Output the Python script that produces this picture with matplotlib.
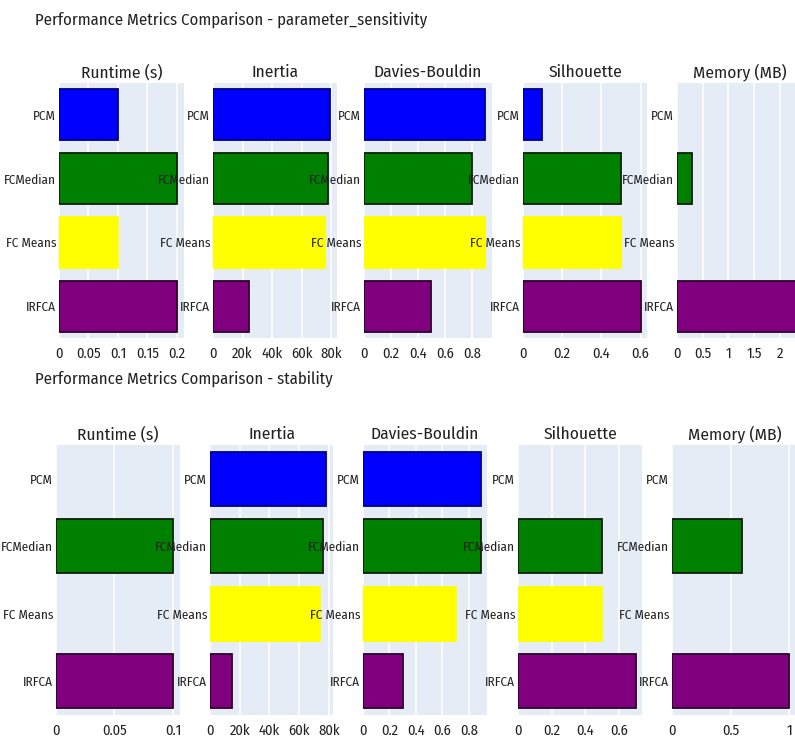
import matplotlib.pyplot as plt
from matplotlib.ticker import FuncFormatter

plt.rcParams['font.family'] = ['Fira Sans Condensed', 'DejaVu Sans']
plt.rcParams['font.weight'] = 'normal'

# categories, top to bottom
methods = ["PCM", "FCMedian", "FC Means", "IRFCA"]
bar_colors = ["#0000ff", "#008000", "#ffff00", "#800080"]
edge_colors = ["#000080", "#0a200a", "#ffff00", "#2a0028"]
metrics = ["Runtime (s)", "Inertia", "Davies-Bouldin", "Silhouette", "Memory (MB)"]

# parameter_sensitivity run
ps_runtime = [0.1, 0.2, 0.1, 0.2]
ps_inertia = [79000, 78000, 76000, 24500]
ps_db = [0.90, 0.80, 0.90, 0.50]
ps_silhouette = [0.095, 0.50, 0.50, 0.60]
ps_memory = [0.0, 0.29, 0.0, 2.35]

# stability run
st_runtime = [0.0, 0.1, 0.0, 0.1]
st_inertia = [78000, 76000, 74000, 15000]
st_db = [0.89, 0.89, 0.70, 0.30]
st_silhouette = [0.0, 0.50, 0.50, 0.70]
st_memory = [0.0, 0.60, 0.0, 1.0]

ps_ticks = [[0, 0.05, 0.1, 0.15, 0.2], [0, 20000, 40000, 60000, 80000],
            [0, 0.2, 0.4, 0.6, 0.8], [0, 0.2, 0.4, 0.6], [0, 0.5, 1, 1.5, 2]]
st_ticks = [[0, 0.05, 0.1], [0, 20000, 40000, 60000, 80000],
            [0, 0.2, 0.4, 0.6, 0.8], [0, 0.2, 0.4, 0.6], [0, 0.5, 1]]
ps_xmax = [0.212, 84000, 0.95, 0.633, 2.43]
st_xmax = [0.106, 82700, 0.936, 0.736, 1.075]

W, H = 795, 740
fig = plt.figure(figsize=(W / 100, H / 100), dpi=100)
fig.patch.set_facecolor("white")

TXT = "#222222"
BG = "#e5ecf6"


def fmt(v, pos):
    if v >= 1000:
        return f"{int(v / 1000)}k"
    return f"{v:g}"


def draw_row(values, ticks, xmax, lefts, top, bottom):
    for i, vals in enumerate(values):
        l, r = lefts[i]
        ax = fig.add_axes([l / W, 1 - bottom / H, (r - l) / W, (bottom - top) / H])
        ax.set_facecolor(BG)
        ypos = list(range(len(methods)))
        lw = [1.3 if v > 0 else 0 for v in vals]
        ax.barh(ypos, vals, height=0.8, color=bar_colors,
                edgecolor=edge_colors, linewidth=lw, zorder=3)
        ax.set_yticks(ypos)
        ax.set_yticklabels(methods)
        ax.set_ylim(len(methods) - 0.5, -0.5)
        ax.set_xlim(0, xmax[i])
        ax.set_xticks(ticks[i])
        ax.xaxis.set_major_formatter(FuncFormatter(fmt))
        ax.grid(axis="x", color="white", linewidth=1.1, zorder=0)
        ax.set_axisbelow(True)
        for s in ax.spines.values():
            s.set_visible(False)
        ax.tick_params(axis="y", length=0, labelsize=9.5, colors=TXT, pad=2)
        ax.tick_params(axis="x", length=0, labelsize=10.5, colors=TXT, pad=6)
        ax.set_title(metrics[i], fontsize=12.5, color=TXT, pad=4)


draw_row([ps_runtime, ps_inertia, ps_db, ps_silhouette, ps_memory], ps_ticks, ps_xmax,
         [(59, 184), (213, 337), (364, 492), (523, 647), (677, 802)], 83, 338)
draw_row([st_runtime, st_inertia, st_db, st_silhouette, st_memory], st_ticks, st_xmax,
         [(56, 180), (210, 333), (363, 487), (518, 642), (672, 798)], 445, 715)

fig.text(35 / W, 1 - 20 / H, "Performance Metrics Comparison - parameter_sensitivity",
         fontsize=12, color=TXT, va="center", ha="left")
fig.text(35 / W, 1 - 379 / H, "Performance Metrics Comparison - stability",
         fontsize=12, color=TXT, va="center", ha="left")

fig.savefig("out.png", dpi=100)
